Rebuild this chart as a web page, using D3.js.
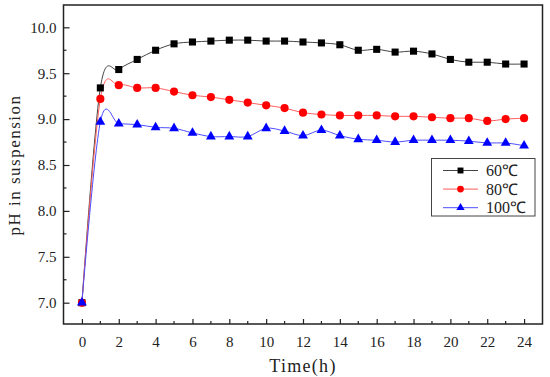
<!DOCTYPE html>
<html><head><meta charset="utf-8">
<script src="https://cdn.jsdelivr.net/npm/d3@7"></script>
<style>
body{margin:0;background:#fff;}
svg{display:block;}
text{font-family:"Liberation Serif","Times New Roman",serif;fill:#222;}
</style></head>
<body><svg id="chart" width="550" height="377"></svg>
<script>
const hours = [0,1,2,3,4,5,6,7,8,9,10,11,12,13,14,15,16,17,18,19,20,21,22,23,24];
const ph60 = [7.00,9.34,9.54,9.65,9.75,9.82,9.84,9.85,9.86,9.86,9.85,9.85,9.84,9.83,9.81,9.75,9.76,9.73,9.74,9.71,9.65,9.62,9.62,9.60,9.60];
const ph80 = [7.00,9.22,9.37,9.34,9.34,9.30,9.26,9.24,9.21,9.18,9.15,9.12,9.07,9.05,9.04,9.04,9.04,9.03,9.03,9.02,9.01,9.01,8.98,9.00,9.01];
const ph100 = [7.00,8.97,8.95,8.94,8.91,8.90,8.85,8.81,8.81,8.81,8.90,8.87,8.82,8.88,8.82,8.78,8.77,8.75,8.77,8.77,8.77,8.76,8.74,8.74,8.71];
const seriesNames = ["60℃","80℃","100℃"];
const xTicks = [0,2,4,6,8,10,12,14,16,18,20,22,24];
const yTicks = [7.0,7.5,8.0,8.5,9.0,9.5,10.0];

const svg = d3.select("#chart");
const L=63.5, R=542.5, T=5, B=324;
const x = d3.scaleLinear().domain([-1,25]).range([L,R]);
const y = d3.scaleLinear().domain([6.768,10.243]).range([B,T]);

const series = [
  {name:seriesNames[0], values:ph60, color:"#000000", line:"#444444", shape:"square"},
  {name:seriesNames[1], values:ph80, color:"#ff0000", line:"#ff5c5c", shape:"circle"},
  {name:seriesNames[2], values:ph100, color:"#0000ff", line:"#4d4dff", shape:"triangle"}
];

const sym = {square:d3.symbolSquare, circle:d3.symbolCircle, triangle:d3.symbolTriangle};
const symSize = {square:50, circle:52, triangle:42};

const line = d3.line().x((d,i)=>x(hours[i])).y(d=>y(d)).curve(d3.curveCardinal.tension(0));

series.forEach(s=>{
  svg.append("path").attr("d", line(s.values)).attr("fill","none")
    .attr("stroke", s.line).attr("stroke-width",1);
});
series.forEach(s=>{
  svg.append("g").selectAll("path").data(s.values).join("path")
    .attr("transform",(d,i)=>`translate(${x(hours[i])},${y(d)})`)
    .attr("d", d3.symbol().type(sym[s.shape]).size(symSize[s.shape]))
    .attr("fill", s.color);
});

// axes
const xAxis = d3.axisBottom(x).tickValues(xTicks).tickSize(-5).tickPadding(12).tickFormat(d3.format("d"));
const gx = svg.append("g").attr("transform",`translate(0,${B})`).call(xAxis);
gx.select(".domain").remove();
gx.selectAll("text").attr("font-size",15);
gx.selectAll("line").attr("stroke","#222").attr("stroke-width",1.2);
const minorX = d3.range(1,25,2);
svg.append("g").selectAll("line").data(minorX).join("line")
  .attr("x1",d=>x(d)).attr("x2",d=>x(d)).attr("y1",B).attr("y2",B-3).attr("stroke","#222").attr("stroke-width",1.2);

const yAxis = d3.axisLeft(y).tickValues(yTicks).tickSize(-6).tickPadding(7).tickFormat(d3.format(".1f"));
const gy = svg.append("g").attr("transform",`translate(${L},0)`).call(yAxis);
gy.select(".domain").remove();
gy.selectAll("text").attr("font-size",15).attr("dx",0);
gy.selectAll("line").attr("stroke","#222").attr("stroke-width",1.2);
const minorY = d3.range(7.25,10.1,0.5);
svg.append("g").selectAll("line").data(minorY).join("line")
  .attr("x1",L).attr("x2",L+3).attr("y1",d=>y(d)).attr("y2",d=>y(d)).attr("stroke","#222").attr("stroke-width",1.2);

// frame
svg.append("rect").attr("x",L).attr("y",T).attr("width",R-L).attr("height",B-T)
  .attr("fill","none").attr("stroke","#222").attr("stroke-width",1.5);

// titles
svg.append("text").attr("x",(x(0)+x(24))/2).attr("y",372).attr("text-anchor","middle")
  .attr("font-size",18).attr("letter-spacing","1.3px").text("Time(h)");
svg.append("text").attr("transform",`translate(20,${(y(7)+y(10))/2}) rotate(-90)`)
  .attr("text-anchor","middle").attr("font-size",17).attr("letter-spacing","1.5px").text("pH in suspension");

// legend
const lg = svg.append("g");
lg.append("rect").attr("x",431.5).attr("y",158.5).attr("width",103.5).attr("height",57.5)
  .attr("fill","#fff").attr("stroke","#444").attr("stroke-width",1);
series.forEach((s,i)=>{
  const yy = 170.5 + i*18.6;
  lg.append("line").attr("x1",443).attr("x2",478).attr("y1",yy).attr("y2",yy).attr("stroke",s.line).attr("stroke-width",1);
  lg.append("path").attr("transform",`translate(460.5,${yy})`)
    .attr("d",d3.symbol().type(sym[s.shape]).size(symSize[s.shape]*0.7)).attr("fill",s.color);
  lg.append("text").attr("x",486).attr("y",yy+5.5).attr("font-size",16).text(s.name);
});
</script></body></html>
